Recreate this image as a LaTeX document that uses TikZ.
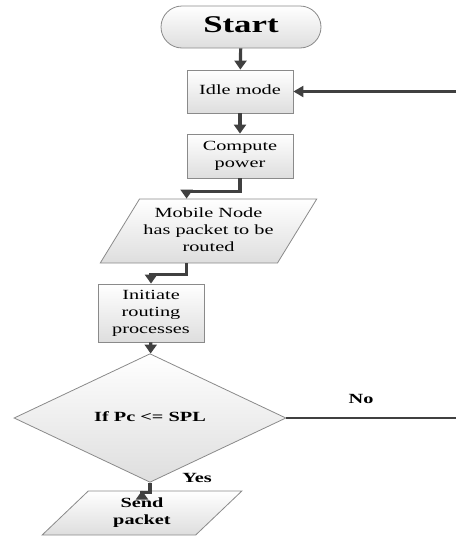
\documentclass[tikz,border=0pt]{standalone}
\usepackage{fontspec}
\setmainfont{Liberation Serif}
\usepackage{graphicx}
\usetikzlibrary{shapes.geometric,shapes.misc,arrows.meta}
\definecolor{linecol}{HTML}{404040}
\definecolor{edgecol}{HTML}{8A8A8A}
% horizontally widened text block
\newcommand\wide[1]{\scalebox{1.45}[1]{\begin{tabular}{@{}c@{}}#1\end{tabular}}}
\begin{document}
\begin{tikzpicture}[x=1pt,y=-1pt,
  every node/.style={inner sep=0pt, font=\fontsize{14}{17}\selectfont},
  boxfill/.style={draw=edgecol, line width=0.8pt, top color=white, bottom color=black!13},
  procbox/.style={boxfill, rectangle, minimum width=106pt},
  iobox/.style={boxfill, trapezium, trapezium stretches=true,
    trapezium left angle=54, trapezium right angle=126},
  arr/.style={draw=linecol, line width=3.2pt, -{Triangle[width=12pt,length=9pt]}},
  thinarr/.style={draw=linecol, line width=2.2pt, -{Triangle[width=11pt,length=10pt]}},
  thinline/.style={draw=linecol, line width=2.2pt},
  lbl/.style={font=\fontsize{14}{17}\selectfont\bfseries}
]
\useasboundingbox (0,0) rectangle (456,536);

% shapes
\node[boxfill, rounded rectangle, minimum width=160pt, minimum height=42pt]
  (start) at (241,27) {\wide{\fontsize{24}{28}\selectfont\bfseries Start}};
\node[procbox, minimum height=43pt] (idle) at (240,91.5) {\wide{Idle mode}};
\node[procbox, minimum height=44pt] (compute) at (240,156) {\wide{Compute\\power}};
\node[iobox, minimum width=217pt, minimum height=64pt] (mobile) at (208.5,231)
  {\wide{Mobile Node\\has packet to be\\routed}};
\node[procbox, minimum height=58pt] (initiate) at (151,313)
  {\wide{Initiate\\routing\\processes}};
\node[boxfill, diamond, minimum width=272pt, minimum height=108pt] (check) at (150,418)
  {\wide{\bfseries If Pc <= SPL}};
\node[iobox, minimum width=200pt, minimum height=44pt] (send) at (142,513)
  {\raisebox{-2pt}{\wide{\bfseries Send\\\bfseries packet}}};

% free ends at the right border
\coordinate (loopin) at (456,91.5);
\coordinate (loopout) at (456,418);

% connectors
\draw[arr] (start) -- (idle);
\draw[thinarr] (loopin) -- (idle.east);
\draw[arr] (idle) -- (compute);
\draw[arr] (compute.south) -- ++(0,13) -| (idle.west |- mobile.north);
\draw[arr] (idle.west |- mobile.south) -- ++(0,11) -| (initiate.north);
\draw[arr] (initiate) -- (check);
\draw[thinline] (check.east) -- (loopout);
\draw[arr] (check.south) -- ++(0,10) -| (send.north);

% branch labels
\node[lbl] (nolbl) at (361,400) {\wide{No}};
\node[lbl] (yeslbl) at (197,479) {\wide{Yes}};
\end{tikzpicture}
\end{document}
